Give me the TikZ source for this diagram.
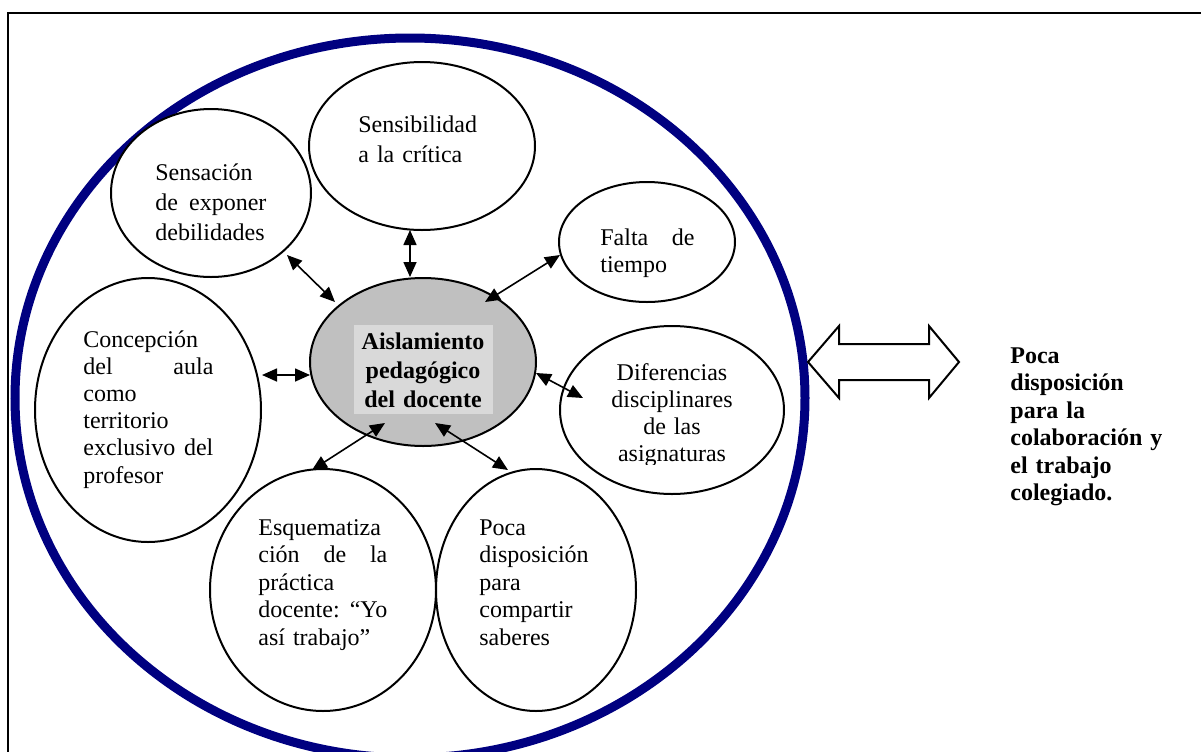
\documentclass[tikz,border=0pt]{standalone}
\usepackage{fontspec}
\setmainfont{Liberation Serif}
\usetikzlibrary{shapes.geometric,arrows.meta,calc}
\definecolor{azulmarino}{RGB}{0,0,128}
\definecolor{grisfondo}{RGB}{192,192,192}
\definecolor{grisclaro}{RGB}{217,217,217}
\tikzset{
  burbuja/.style={ellipse, draw, fill=white, line width=1pt, inner sep=0pt},
  texto/.style={inner sep=0pt, align=left, anchor=base west, font=\fontsize{12}{13.75}\selectfont},
  flecha/.style={{Triangle[length=7.5pt,width=6.5pt]}-{Triangle[length=7.5pt,width=6.5pt]}, line width=0.8pt}
}

\begin{document}
\begin{tikzpicture}[x=0.5pt, y=-0.5pt]
\useasboundingbox (0,0) rectangle (1201,751);
\clip (0,0) rectangle (1201,751);
% marco y elipse azul
\draw[line width=1pt] (8,13) rectangle (1215,770);
\node[ellipse, draw=azulmarino, line width=4.5pt, minimum width=395pt, minimum height=360pt, inner sep=0pt] (contexto) at (410,398) {};
\draw[line width=1pt, fill=white] (808,362) -- (839,326) -- (839,344) -- (929,344) -- (929,326) -- (959,362)
  -- (929,398) -- (929,380) -- (839,380) -- (839,398) -- cycle;

% elipses
\node[burbuja, minimum width=113pt, minimum height=84pt] (sensib) at (422,146) {};
\node[burbuja, minimum width=100pt, minimum height=84pt] (sensac) at (211,193) {};
\node[burbuja, minimum width=88pt, minimum height=60pt] (falta) at (647,242) {};
\node[burbuja, minimum width=113pt, minimum height=132pt] (concep) at (148,410) {};
\node[burbuja, minimum width=112pt, minimum height=84pt] (difer) at (672,410) {};
\node[burbuja, minimum width=113pt, minimum height=121pt] (esquem) at (323,590) {};
\node[burbuja, minimum width=100pt, minimum height=121pt] (poca) at (536,590) {};
\node[burbuja, fill=grisfondo, minimum width=113pt, minimum height=84pt] (centro) at (423,362) {};

% textos
\node[texto, text width=60pt, font=\fontsize{12}{15}\selectfont] (sensibtxt) at (358,132) {Sensibilidad\\ a la crítica};
\node[texto, text width=55.5pt, font=\fontsize{12}{15}\selectfont] (sensactxt) at (155,180) {Sensación\\ de\hfill exponer\\ debilidades};
\begin{scope}
  \clip (550,150) rectangle (750,277);
  \node[texto, text width=47pt, font=\fontsize{12}{13.5}\selectfont] (faltatxt) at (600,245) {Falta\hfill de\\ tiempo};
\end{scope}
\node[texto, text width=65pt, font=\fontsize{12}{13.6}\selectfont] (concetxt) at (83,347) {Concepción\\ del\hfill aula\\ como\\ territorio\\ exclusivo\hfill del\\ profesor};
\begin{scope}
  \clip (550,340) rectangle (800,464);
  \node[texto, align=center, anchor=base, text width=64pt, font=\fontsize{12}{13.65}\selectfont] (difertxt) at (672,380) {Diferencias\\ disciplinares\\ de las\\ asignaturas};
\end{scope}
\node[texto, text width=64.5pt] (esquemtxt) at (258,535) {Esquematiza\\ ción\hfill de\hfill la\\ práctica\\ docente:\hfill “Yo\\ así trabajo”};
\node[texto, text width=56pt] (pocatxt) at (479,535) {Poca\\ disposición\\ para\\ compartir\\ saberes};
\node[texto, align=center, anchor=base, text width=61.5pt, fill=grisclaro, inner xsep=4pt, inner ysep=3.5pt,
  font=\bfseries\fontsize{12}{14.5}\selectfont] (centrotxt) at (423,349) {Aislamiento\\ pedagógico\\ del docente};
\node[texto, text width=80pt, font=\bfseries\fontsize{12}{13.75}\selectfont] (resultado) at (1010,363)
  {Poca\\ disposición\\ para la\\ colaboración y\\ el trabajo\\ colegiado.};

% flechas
\draw[flecha] ($(sensac)+(76,62)$) -- ($(centro)+(-88,-60)$);
\draw[flecha] ($(sensib)+(-12,84)$) -- ($(centro)+(-13,-85)$);
\draw[flecha] ($(falta)+(-87,13)$) -- ($(centro)+(62,-60)$);
\draw[flecha] ($(concep)+(114,-35)$) -- ($(centro)+(-113,13)$);
\draw[flecha] ($(difer)+(-89,-12)$) -- ($(centro)+(113,11)$);
\draw[flecha] ($(esquem)+(-11,-120)$) -- ($(centro)+(-38,61)$);
\draw[flecha] ($(poca)+(-28,-120)$) -- ($(centro)+(12,61)$);
\end{tikzpicture}
\end{document}
